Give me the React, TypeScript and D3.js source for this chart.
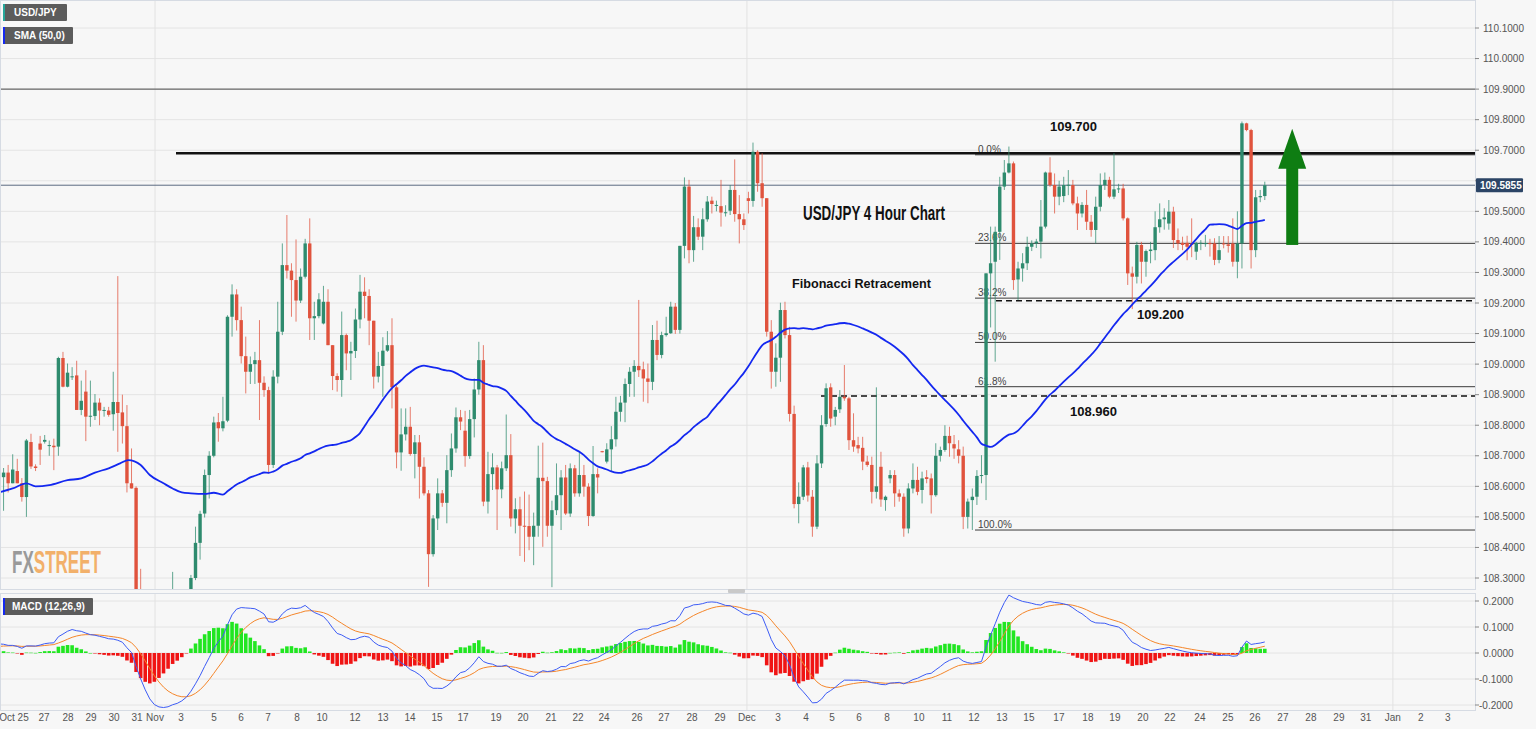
import React, { useLayoutEffect, useRef, useState } from "react";
import * as d3 from "d3";

// ---------- DATA (USD/JPY 4H) ----------
const opens = [
  108.66, 108.63, 108.645, 108.61, 108.65, 108.61, 108.565, 108.745, 108.665, 108.74,
  108.746, 108.733, 108.733, 108.73, 109.02, 108.926, 108.96, 108.963, 108.85, 108.91,
  108.83, 108.83, 108.874, 108.85, 108.848, 108.836, 108.876, 108.842, 108.797, 108.61,
  108.595, 108.1, 108.02, 107.95, 107.9, 107.95, 108.02, 108.05, 108.08, 108.12,
  108.08, 108.12, 108.18, 108.3, 108.415, 108.511, 108.637, 108.7, 108.81, 108.79,
  108.815, 109.155, 109.228, 109.144, 109.026, 108.975, 109.0, 109.013, 108.939, 108.915,
  108.67, 108.959, 109.106, 109.324, 109.306, 109.275, 109.208, 109.286, 109.395, 109.15,
  109.157, 109.133, 109.204, 109.062, 108.961, 108.948, 109.095, 109.035, 109.043, 109.146,
  109.237, 109.223, 109.142, 108.959, 108.994, 109.044, 109.062, 108.924, 108.711, 108.77,
  108.795, 108.706, 108.744, 108.664, 108.577, 108.378, 108.495, 108.577, 108.546, 108.653,
  108.724, 108.826, 108.782, 108.699, 108.82, 108.917, 109.013, 108.55, 108.64, 108.662,
  108.59, 108.659, 108.702, 108.495, 108.525, 108.471, 108.47, 108.435, 108.471, 108.628,
  108.617, 108.471, 108.522, 108.571, 108.629, 108.511, 108.659, 108.577, 108.637, 108.599,
  108.503, 108.64, 108.715, 108.681, 108.721, 108.754, 108.844, 108.874, 108.935, 108.975,
  108.994, 108.983, 108.953, 108.942, 109.079, 109.03, 109.095, 109.101, 109.188, 109.112,
  109.387, 109.581, 109.373, 109.448, 109.417, 109.474, 109.535, 109.52, 109.517, 109.496,
  109.502, 109.57, 109.491, 109.474, 109.543, 109.534, 109.695, 109.592, 109.543, 109.106,
  108.975, 109.021, 109.177, 109.095, 108.837, 108.542, 108.566, 108.662, 108.566, 108.468,
  108.675, 108.804, 108.924, 108.828, 108.852, 108.893, 108.888, 108.751, 108.735, 108.726,
  108.681, 108.67, 108.582, 108.664, 108.555, 108.626, 108.637, 108.577, 108.566, 108.462,
  108.593, 108.621, 108.588, 108.63, 108.626, 108.571, 108.7, 108.719, 108.765, 108.738,
  108.721, 108.7, 108.5, 108.555, 108.566, 108.634, 108.637, 109.297, 109.335, 109.433,
  109.581, 109.627, 109.657, 109.277, 109.313, 109.33, 109.384, 109.395, 109.401, 109.45,
  109.627, 109.586, 109.548, 109.55, 109.586, 109.586, 109.526, 109.493, 109.521, 109.466,
  109.439, 109.515, 109.586, 109.603, 109.548, 109.572, 109.575, 109.477, 109.297, 109.286,
  109.39, 109.335, 109.37, 109.373, 109.448, 109.474, 109.46, 109.499, 109.406, 109.397,
  109.397, 109.395, 109.368, 109.397, 109.395, 109.396, 109.395, 109.341, 109.395, 109.392,
  109.395, 109.335, 109.395, 109.788, 109.766, 109.373, 109.546, 109.55,
];
const highs = [
  108.68, 108.66, 108.67, 108.705, 108.69, 108.627, 108.755, 108.772, 108.672, 108.765,
  108.768, 108.75, 108.756, 109.024, 109.04, 109.002, 108.99, 109.011, 108.946, 108.98,
  108.946, 108.902, 108.888, 108.86, 108.86, 108.975, 109.288, 108.9, 108.866, 108.724,
  108.6, 108.33, 108.1, 108.02, 108.0, 108.08, 108.1, 108.15, 108.32, 108.18,
  108.16, 108.22, 108.31, 108.468, 108.52, 108.655, 108.715, 108.828, 108.84, 108.893,
  109.16, 109.261, 109.245, 109.188, 109.09, 109.025, 109.04, 109.144, 108.96, 108.926,
  108.98, 109.204, 109.395, 109.488, 109.33, 109.408, 109.313, 109.41, 109.477, 109.204,
  109.232, 109.256, 109.245, 109.062, 108.97, 109.172, 109.1, 109.073, 109.182, 109.292,
  109.284, 109.245, 109.142, 109.04, 109.088, 109.108, 109.15, 108.93, 108.855, 108.855,
  108.86, 108.768, 108.768, 108.695, 108.588, 108.506, 108.626, 108.588, 108.702, 108.773,
  108.858, 108.85, 108.847, 108.85, 108.953, 109.073, 109.062, 108.713, 108.708, 108.67,
  108.681, 108.835, 108.771, 108.561, 108.566, 108.583, 108.573, 108.514, 108.733, 108.743,
  108.631, 108.553, 108.675, 108.653, 108.67, 108.675, 108.67, 108.713, 108.67, 108.61,
  108.732, 108.659, 108.716, 108.741, 108.797, 108.893, 108.896, 108.953, 108.99, 109.013,
  109.21, 109.008, 109.002, 109.128, 109.142, 109.106, 109.155, 109.204, 109.2, 109.387,
  109.611, 109.603, 109.485, 109.477, 109.51, 109.55, 109.548, 109.535, 109.603, 109.52,
  109.586, 109.67, 109.553, 109.493, 109.564, 109.725, 109.7, 109.69, 109.543, 109.144,
  109.068, 109.201, 109.204, 109.122, 108.864, 108.613, 108.67, 108.68, 108.588, 108.702,
  108.833, 108.937, 108.937, 108.86, 108.915, 108.997, 108.893, 108.839, 108.762, 108.762,
  108.7, 108.697, 108.924, 108.713, 108.57, 108.653, 108.653, 108.59, 108.577, 108.61,
  108.675, 108.664, 108.648, 108.653, 108.642, 108.741, 108.73, 108.8, 108.795, 108.768,
  108.751, 108.73, 108.56, 108.593, 108.653, 108.702, 109.297, 109.45, 109.45, 109.613,
  109.668, 109.712, 109.663, 109.335, 109.363, 109.417, 109.405, 109.41, 109.537, 109.63,
  109.677, 109.624, 109.6, 109.613, 109.635, 109.603, 109.548, 109.53, 109.57, 109.488,
  109.548, 109.624, 109.627, 109.613, 109.69, 109.59, 109.59, 109.48, 109.319, 109.4,
  109.4, 109.375, 109.4, 109.5, 109.526, 109.51, 109.537, 109.515, 109.444, 109.417,
  109.42, 109.477, 109.4, 109.406, 109.423, 109.41, 109.412, 109.419, 109.419, 109.419,
  109.477, 109.5, 109.794, 109.79, 109.77, 109.57, 109.57, 109.597,
];
const lows = [
  108.49, 108.52, 108.58, 108.61, 108.61, 108.55, 108.5, 108.657, 108.65, 108.67,
  108.74, 108.7, 108.653, 108.7, 108.924, 108.924, 108.948, 108.85, 108.833, 108.748,
  108.795, 108.817, 108.8, 108.828, 108.828, 108.782, 108.713, 108.74, 108.58, 108.593,
  108.05, 107.98, 107.9, 107.85, 107.86, 107.92, 107.98, 108.0, 108.04, 108.02,
  108.0, 108.08, 108.15, 108.293, 108.36, 108.498, 108.56, 108.695, 108.746, 108.78,
  108.81, 109.09, 109.11, 109.002, 108.904, 108.935, 108.935, 108.817, 108.893, 108.642,
  108.66, 108.937, 109.095, 109.28, 109.155, 109.139, 109.2, 109.28, 109.079, 109.079,
  109.15, 109.13, 109.062, 108.915, 108.91, 108.893, 108.98, 108.948, 109.02, 109.117,
  109.15, 109.062, 108.92, 108.94, 108.893, 109.04, 108.855, 108.659, 108.651, 108.75,
  108.7, 108.626, 108.56, 108.57, 108.271, 108.37, 108.457, 108.533, 108.479, 108.631,
  108.71, 108.784, 108.664, 108.69, 108.76, 108.9, 108.535, 108.511, 108.588, 108.457,
  108.561, 108.65, 108.468, 108.446, 108.372, 108.353, 108.391, 108.342, 108.435, 108.402,
  108.435, 108.27, 108.506, 108.457, 108.506, 108.5, 108.566, 108.566, 108.566, 108.47,
  108.5, 108.577, 108.711, 108.675, 108.648, 108.73, 108.812, 108.81, 108.893, 108.893,
  108.958, 108.877, 108.872, 108.915, 109.013, 109.019, 109.09, 109.099, 109.099, 109.1,
  109.346, 109.33, 109.335, 109.406, 109.373, 109.466, 109.493, 109.5, 109.45, 109.483,
  109.488, 109.466, 109.395, 109.439, 109.493, 109.515, 109.564, 109.515, 109.09, 108.92,
  108.926, 108.942, 109.084, 108.812, 108.528, 108.479, 108.555, 108.55, 108.435, 108.46,
  108.66, 108.795, 108.795, 108.8, 108.84, 108.88, 108.719, 108.713, 108.708, 108.653,
  108.664, 108.544, 108.56, 108.533, 108.52, 108.61, 108.533, 108.55, 108.435, 108.446,
  108.577, 108.571, 108.544, 108.61, 108.511, 108.566, 108.681, 108.713, 108.697, 108.69,
  108.675, 108.46, 108.462, 108.457, 108.539, 108.61, 108.555, 109.12, 109.008, 109.341,
  109.57, 109.624, 109.243, 109.21, 109.27, 109.308, 109.37, 109.38, 109.346, 109.444,
  109.58, 109.493, 109.52, 109.53, 109.553, 109.52, 109.439, 109.48, 109.439, 109.417,
  109.395, 109.5, 109.57, 109.543, 109.54, 109.56, 109.47, 109.259, 109.18, 109.264,
  109.264, 109.286, 109.33, 109.34, 109.43, 109.44, 109.44, 109.38, 109.373, 109.373,
  109.34, 109.35, 109.341, 109.373, 109.384, 109.352, 109.324, 109.33, 109.379, 109.365,
  109.319, 109.281, 109.313, 109.762, 109.313, 109.35, 109.53, 109.537,
];
const closes = [
  108.63, 108.645, 108.61, 108.655, 108.61, 108.565, 108.75, 108.665, 108.66, 108.72,
  108.752, 108.735, 108.728, 109.02, 108.926, 108.972, 108.96, 108.85, 108.88, 108.828,
  108.831, 108.874, 108.848, 108.85, 108.834, 108.876, 108.84, 108.797, 108.61, 108.593,
  108.1, 108.02, 107.95, 107.9, 107.95, 108.02, 108.05, 108.08, 108.12, 108.08,
  108.12, 108.18, 108.3, 108.415, 108.51, 108.637, 108.7, 108.809, 108.79, 108.813,
  109.155, 109.228, 109.144, 109.026, 108.975, 109.0, 109.013, 108.939, 108.915, 108.67,
  108.959, 109.106, 109.324, 109.306, 109.275, 109.208, 109.286, 109.395, 109.15, 109.157,
  109.212, 109.204, 109.062, 108.961, 108.948, 109.095, 109.035, 109.043, 109.146, 109.237,
  109.223, 109.142, 108.959, 108.994, 109.044, 109.062, 108.924, 108.711, 108.77, 108.795,
  108.706, 108.744, 108.664, 108.577, 108.378, 108.495, 108.577, 108.546, 108.653, 108.724,
  108.826, 108.812, 108.699, 108.82, 108.917, 109.013, 108.55, 108.64, 108.662, 108.59,
  108.659, 108.702, 108.495, 108.525, 108.471, 108.47, 108.435, 108.471, 108.628, 108.617,
  108.471, 108.522, 108.571, 108.629, 108.511, 108.659, 108.577, 108.637, 108.599, 108.503,
  108.64, 108.629, 108.712, 108.721, 108.754, 108.844, 108.874, 108.935, 108.975, 108.994,
  108.98, 108.953, 108.942, 109.079, 109.03, 109.095, 109.101, 109.188, 109.112, 109.387,
  109.581, 109.373, 109.448, 109.417, 109.474, 109.532, 109.524, 109.521, 109.496, 109.497,
  109.57, 109.491, 109.474, 109.455, 109.534, 109.695, 109.592, 109.543, 109.106, 108.975,
  109.021, 109.177, 109.095, 108.837, 108.542, 108.566, 108.662, 108.57, 108.468, 108.675,
  108.8, 108.921, 108.822, 108.85, 108.893, 108.888, 108.751, 108.73, 108.724, 108.681,
  108.67, 108.582, 108.6, 108.557, 108.566, 108.637, 108.577, 108.566, 108.462, 108.593,
  108.621, 108.582, 108.626, 108.624, 108.571, 108.7, 108.719, 108.765, 108.741, 108.724,
  108.7, 108.5, 108.55, 108.566, 108.634, 108.637, 109.297, 109.33, 109.433, 109.581,
  109.627, 109.657, 109.275, 109.313, 109.33, 109.384, 109.395, 109.401, 109.45, 109.627,
  109.586, 109.548, 109.581, 109.586, 109.587, 109.526, 109.493, 109.521, 109.466, 109.439,
  109.515, 109.586, 109.603, 109.548, 109.572, 109.575, 109.477, 109.297, 109.286, 109.39,
  109.335, 109.37, 109.375, 109.448, 109.474, 109.48, 109.499, 109.406, 109.395, 109.39,
  109.384, 109.39, 109.397, 109.397, 109.396, 109.394, 109.341, 109.373, 109.394, 109.387,
  109.335, 109.395, 109.788, 109.766, 109.373, 109.546, 109.55, 109.5855,
];

// SMA(50) values for the bars before a full 50-bar window exists
const smaLeadIdx = [0, 3, 6, 8, 11, 15, 18, 21, 24, 26.5, 28.3, 31, 33, 36, 38, 40, 42, 45, 47];
const smaLeadVal = [108.58, 108.593, 108.61, 108.6, 108.604, 108.62, 108.626, 108.645, 108.659, 108.675, 108.686, 108.67, 108.637, 108.61, 108.593, 108.58, 108.577, 108.575, 108.579];
const SMA_PERIOD = 50;
// MACD(12,26,9) state at the first visible bar
const macdStart = 0.035;
const signalStart = 0.025;

const priceTicks = [110.1, 110.0, 109.9, 109.8, 109.7, 109.6, 109.5, 109.4, 109.3, 109.2, 109.1, 109.0, 108.9, 108.8, 108.7, 108.6, 108.5, 108.4, 108.3];
const macdTicks = [0.2, 0.1, 0, -0.1, -0.2];

const xLabels = [
  "Oct 25", "27", "28", "29", "30", "31", "Nov", "3", "5", "6", "7", "8", "10", "12", "13", "14", "15",
  "17", "19", "20", "21", "22", "24", "26", "27", "28", "29", "Dec", "3", "4", "5", "6", "8", "10", "11",
  "12", "13", "15", "17", "18", "19", "20", "22", "24", "25", "26", "27", "28", "29", "31", "Jan", "2", "3",
];
const xLabelIdx = [
  3.28, 9.85, 15.1, 20.13, 25.16, 30.2, 34.14, 39.82, 47.05, 52.95, 58.86, 65.2, 70.68, 77.9, 84.03, 89.93, 95.84,
  101.53, 108.75, 114.66, 120.79, 126.7, 132.39, 139.61, 145.51, 151.64, 157.77, 163.68, 170.46, 176.59, 182.28, 188.18, 194.31, 201.31, 207.44,
  213.35, 219.47, 225.38, 231.95, 238.29, 244.2, 250.33, 256.24, 262.8, 268.93, 274.84, 280.96, 287.09, 293.22, 299.12, 305.03, 311.16, 317.07,
];
const monthStartIdx = [34.14, 163.68, 305.03];

const level109_9 = 109.9;
const resistance = 109.69;
const resistanceLabel = "109.700";
const lastPrice = 109.5855;
const fibHigh = 109.685;
const fibLow = 108.457;
const fibRatios = [0, 0.236, 0.382, 0.5, 0.618, 1];
const fibLabels = ["0.0%", "23.6%", "38.2%", "50.0%", "61.8%", "100.0%"];
const support1 = 109.207;
const support1Label = "109.200";
const support2 = 108.896;
const support2Label = "108.960";
const arrowFrom = 109.39;
const arrowTo = 109.77;

// ---------- LAYOUT ----------
const W = 1536;
const H = 729;
const PLOT_R = 1475;
const PRICE_BOTTOM = 589;
const MACD_TOP = 593;
const MACD_BOTTOM = 710;
const UP = "#2e8b6e";
const DOWN = "#e0533d";
const FONT = "'Liberation Sans', Arial, sans-serif";
const NARROW = "'Liberation Sans Narrow', 'Arial Narrow', 'Liberation Sans', sans-serif";
const WATERMARK_WIDTH = 89;

export default function App() {
  const wmRef = useRef<SVGTextElement>(null);
  const [wmScale, setWmScale] = useState(0.68);
  useLayoutEffect(() => {
    const el = wmRef.current;
    if (el) {
      const w = el.getComputedTextLength();
      if (w > 0) setWmScale(WATERMARK_WIDTH / w);
    }
  }, []);

  const n = closes.length;
  const x = d3.scaleLinear().domain([0, 323]).range([-1, PLOT_R]);
  const y = d3.scaleLinear().domain([108.3, 110.1]).range([578, 28]);
  const ym = d3.scaleLinear().domain([-0.2, 0.2]).range([705, 601]);

  // SMA 50
  const smaPts: [number, number][] = smaLeadIdx.map((k, j) => [k, smaLeadVal[j]]);
  for (let i = SMA_PERIOD - 1; i < n; i++) {
    smaPts.push([i, d3.mean(closes.slice(i - SMA_PERIOD + 1, i + 1)) as number]);
  }
  const smaPath = d3
    .line<[number, number]>()
    .x((d) => x(d[0]))
    .y((d) => y(d[1]))
    .curve(d3.curveMonotoneX)(smaPts);

  // MACD
  const k12 = 2 / 13, k26 = 2 / 27, k9 = 2 / 10;
  let e12 = closes[0];
  let e26 = closes[0] - macdStart;
  let sig = signalStart;
  const macd: number[] = [e12 - e26];
  const signal: number[] = [sig];
  for (let i = 1; i < n; i++) {
    e12 = closes[i] * k12 + e12 * (1 - k12);
    e26 = closes[i] * k26 + e26 * (1 - k26);
    const m = e12 - e26;
    sig = m * k9 + sig * (1 - k9);
    macd.push(m);
    signal.push(sig);
  }
  const hist = macd.map((m, i) => m - signal[i]);
  const macdLine = d3.line<number>().x((_, i) => x(i)).y((d) => ym(d));

  const fibLevels = fibRatios.map((r) => fibHigh - r * (fibHigh - fibLow));

  const ax = x(283);
  const arrowHeadBase = y(arrowTo) + 40;

  return (
    <svg
      width={W}
      height={H}
      style={{ position: "fixed", left: 0, top: 0, display: "block", background: "#f7f7f7" }}
      fontFamily={FONT}
    >
      <defs>
        <clipPath id="pricePane">
          <rect x={0} y={0} width={PLOT_R} height={PRICE_BOTTOM} />
        </clipPath>
        <clipPath id="macdPane">
          <rect x={0} y={MACD_TOP} width={PLOT_R} height={MACD_BOTTOM - MACD_TOP} />
        </clipPath>
      </defs>
      <rect x={0} y={0} width={W} height={H} fill="#f7f7f7" />

      {/* grid */}
      {priceTicks.map((p) => (
        <line key={"g" + p} x1={0} x2={PLOT_R} y1={y(p)} y2={y(p)} stroke="#e4e4e4" strokeWidth={1} />
      ))}
      {macdTicks.map((v) => (
        <line key={"gm" + v} x1={0} x2={PLOT_R} y1={ym(v)} y2={ym(v)} stroke="#e4e4e4" strokeWidth={1} />
      ))}
      {monthStartIdx.map((k) => (
        <g key={"v" + k}>
          <line x1={x(k)} x2={x(k)} y1={0} y2={PRICE_BOTTOM} stroke="#e2e2e2" />
          <line x1={x(k)} x2={x(k)} y1={MACD_TOP} y2={MACD_BOTTOM} stroke="#e2e2e2" />
        </g>
      ))}

      {/* watermark */}
      <g transform={`translate(12,573) scale(${wmScale},1)`}>
        <text ref={wmRef} x={0} y={0} fontFamily={NARROW} fontWeight={700} fontSize={31}>
          <tspan fill="#9a9a9a">FX</tspan>
          <tspan fill="#f2b06a">STREET</tspan>
        </text>
      </g>

      <g clipPath="url(#pricePane)">
        {/* horizontal levels */}
        <line x1={0} x2={PLOT_R} y1={y(level109_9)} y2={y(level109_9)} stroke="#4a4a4a" strokeWidth={1} />
        <line x1={0} x2={PLOT_R} y1={y(lastPrice)} y2={y(lastPrice)} stroke="#5b6b82" strokeWidth={1} />
        {fibLevels.map((lv, j) => (
          <g key={"f" + j}>
            <line x1={975} x2={PLOT_R} y1={y(lv)} y2={y(lv)} stroke="#3a3a3a" strokeWidth={1} />
            <text x={978} y={y(lv) - 2} fontSize={10} fill="#444">
              {fibLabels[j]}
            </text>
          </g>
        ))}
        <line x1={176} x2={PLOT_R} y1={y(resistance)} y2={y(resistance)} stroke="#111" strokeWidth={2.6} />
        <line x1={996} x2={PLOT_R} y1={y(support1)} y2={y(support1)} stroke="#111" strokeWidth={1.5} strokeDasharray="6,4" />
        <line x1={821} x2={PLOT_R} y1={y(support2)} y2={y(support2)} stroke="#111" strokeWidth={1.5} strokeDasharray="6,4" />

        {/* candles */}
        {closes.map((c, i) => {
          const o = opens[i];
          const col = c >= o ? UP : DOWN;
          const top = y(Math.max(o, c));
          const h = Math.max(1, Math.abs(y(o) - y(c)));
          return (
            <g key={"c" + i}>
              <line x1={x(i)} x2={x(i)} y1={y(highs[i])} y2={y(lows[i])} stroke={col} strokeOpacity={0.75} strokeWidth={1} />
              <rect x={x(i) - 1.7} y={top} width={3.4} height={h} fill={col} />
            </g>
          );
        })}

        {/* SMA */}
        <path d={smaPath || ""} fill="none" stroke="#1428f0" strokeWidth={1.8} />

        {/* arrow */}
        <rect x={ax - 6} y={arrowHeadBase - 1} width={12} height={y(arrowFrom) - arrowHeadBase + 1} fill="#0e7d12" />
        <path d={`M${ax - 14},${arrowHeadBase} L${ax},${y(arrowTo)} L${ax + 14},${arrowHeadBase} Z`} fill="#0e7d12" />
      </g>

      {/* annotation texts */}
      <text x={803} y={220} fontFamily={NARROW} fontWeight={700} fontSize={20} fill="#111" textLength={142} lengthAdjust="spacingAndGlyphs">
        USD/JPY 4 Hour Chart
      </text>
      <text x={792} y={288} fontWeight={700} fontSize={13} fill="#111" textLength={139} lengthAdjust="spacingAndGlyphs">
        Fibonacci Retracement
      </text>
      <text x={1050} y={131} fontWeight={700} fontSize={13} fill="#111">{resistanceLabel}</text>
      <text x={1137} y={319} fontWeight={700} fontSize={13} fill="#111">{support1Label}</text>
      <text x={1070} y={416} fontWeight={700} fontSize={13} fill="#111">{support2Label}</text>

      {/* MACD pane */}
      <g clipPath="url(#macdPane)">
        {hist.map((hv, i) => (
          <rect
            key={"h" + i}
            x={x(i) - 1.8}
            width={3.6}
            y={Math.min(ym(0), ym(hv))}
            height={Math.max(0.5, Math.abs(ym(hv) - ym(0)))}
            fill={hv >= 0 ? "#21e621" : "#f01414"}
          />
        ))}
        <path d={macdLine(signal) || ""} fill="none" stroke="#f5862a" strokeWidth={1} />
        <path d={macdLine(macd) || ""} fill="none" stroke="#3d5cf5" strokeWidth={1} />
      </g>

      {/* pane borders */}
      <rect x={0.5} y={0.5} width={PLOT_R} height={PRICE_BOTTOM} fill="none" stroke="#d6dbe3" />
      <rect x={0.5} y={MACD_TOP + 0.5} width={PLOT_R} height={MACD_BOTTOM - MACD_TOP} fill="none" stroke="#d6dbe3" />
      <rect x={728} y={PRICE_BOTTOM} width={17} height={4} fill="#c9c9c9" rx={1} />

      {/* right axes */}
      {priceTicks.map((p) => (
        <g key={"pt" + p}>
          <line x1={PLOT_R} x2={PLOT_R + 4} y1={y(p)} y2={y(p)} stroke="#888" />
          {Math.abs(y(p) - y(lastPrice)) > 9 && (
            <text x={PLOT_R + 8} y={y(p) + 3.5} fontSize={10} fill="#555">
              {p.toFixed(4)}
            </text>
          )}
        </g>
      ))}
      {macdTicks.map((v) => (
        <g key={"mt" + v}>
          <line x1={PLOT_R} x2={PLOT_R + 4} y1={ym(v)} y2={ym(v)} stroke="#888" />
          <text x={v < 0 ? PLOT_R + 4 : PLOT_R + 8} y={ym(v) + 3.5} fontSize={10} fill="#555">
            {v.toFixed(4)}
          </text>
        </g>
      ))}
      <rect x={PLOT_R + 1} y={y(lastPrice) - 7} width={47} height={14} fill="#2c4566" rx={1} />
      <text x={PLOT_R + 5} y={y(lastPrice) + 3.5} fontSize={10} fontWeight={700} fill="#fff">
        {lastPrice.toFixed(4)}
      </text>

      {/* x axis */}
      {xLabels.map((lab, j) => (
        <text key={"x" + j} x={x(xLabelIdx[j])} y={721} fontSize={10} fill="#555" textAnchor="middle">
          {lab}
        </text>
      ))}

      {/* legends */}
      <rect x={3} y={4} width={64} height={17} fill="#5c5c5c" rx={1} />
      <rect x={3} y={4} width={2} height={17} fill="#26a69a" />
      <text x={14} y={16} fontSize={10} fontWeight={700} fill="#fff">USD/JPY</text>
      <rect x={3} y={27} width={70} height={17} fill="#5c5c5c" rx={1} />
      <rect x={3} y={27} width={2} height={17} fill="#1428f0" />
      <text x={14} y={39} fontSize={10} fontWeight={700} fill="#fff">SMA (50,0)</text>
      <rect x={3} y={598} width={90} height={17} fill="#5c5c5c" rx={1} />
      <rect x={3} y={598} width={2} height={17} fill="#1428f0" />
      <text x={12} y={610} fontSize={10} fontWeight={700} fill="#fff">MACD (12,26,9)</text>
    </svg>
  );
}
